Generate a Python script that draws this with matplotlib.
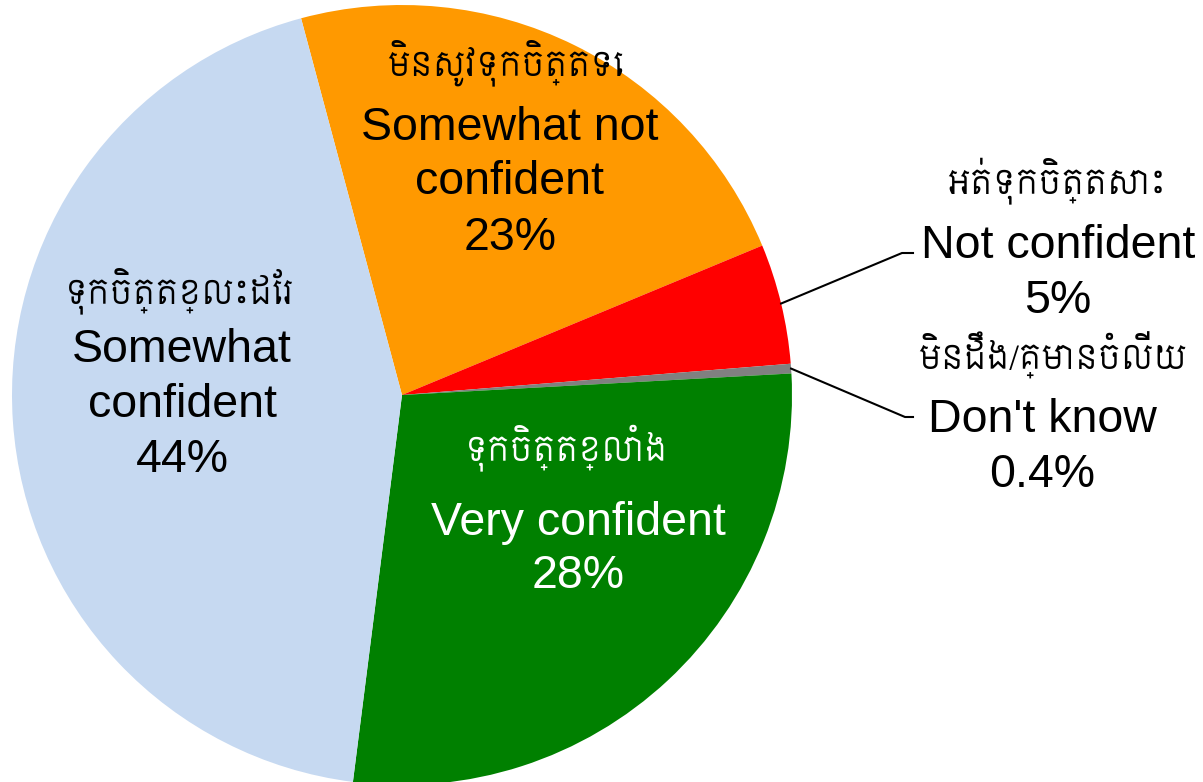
import matplotlib
matplotlib.use("Agg")
import numpy as np
import matplotlib.pyplot as plt

# survey answers, clockwise from the top-left edge of the orange slice
labels_km = ["មិនសូវទុកចិត្តទេ", "អត់ទុកចិត្តសោះ", "មិនដឹង/គ្មានចំលើយ",
             "ទុកចិត្តខ្លាំង", "ទុកចិត្តខ្លះដែរ"]
labels_en = [["Somewhat not", "confident"], ["Not confident"], ["Don't know"],
             ["Very confident"], ["Somewhat", "confident"]]
shares = [23, 5, 0.4, 28, 44]
colors = ["#FF9900", "#FF0000", "#808080", "#008000", "#C6D9F1"]
text_colors = ["black", "black", "black", "white", "black"]

EN = ["Liberation Sans", "DejaVu Sans"]
KM = ["Siemreap", "Liberation Sans", "DejaVu Sans"]

W, H = 1203, 782
CX, CY, R = 402, 395, 390   # pie centre and radius in pixels


def at(px, py):
    return (px - CX) / R, (CY - py) / R


fig = plt.figure(figsize=(W / 100, H / 100), dpi=100)
ax = fig.add_axes([0, 0, 1, 1])

wedges, _ = ax.pie(shares, colors=colors, startangle=105, counterclock=False,
                   wedgeprops=dict(linewidth=0))
ax.set_xlim(-CX / R, (W - CX) / R)
ax.set_ylim(-(H - CY) / R, CY / R)
ax.axis("off")

# label blocks: x centre, khmer (x, baseline), english baselines
blocks = [
    (510, (506, 75), [140, 194, 250]),
    (1058, (1057, 193), [258, 313]),
    (1042, (1053, 370), [432, 487]),
    (578, (567, 460), [535, 588]),
    (182, (180, 303), [362, 417, 472]),
]

for i, (xc, (kx, ky), ys) in enumerate(blocks):
    c = text_colors[i]
    ax.text(*at(kx, ky), labels_km[i], family=KM, fontsize=24, color=c,
            ha="center", va="baseline")
    lines = labels_en[i] + [f"{shares[i]:g}%"]
    for line, y in zip(lines, ys):
        ax.text(*at(xc, y), line, family=EN, fontsize=33.5, color=c,
                ha="center", va="baseline")

# leader lines for the two thin slices
elbows = {1: [(902, 253), (913, 253)], 2: [(905, 417), (913, 417)]}
for i, pts in elbows.items():
    w = wedges[i]
    t = np.deg2rad((w.theta1 + w.theta2) / 2)
    xs = [np.cos(t)] + [at(*p)[0] for p in pts]
    ys = [np.sin(t)] + [at(*p)[1] for p in pts]
    ax.plot(xs, ys, color="black", lw=1.5)

fig.savefig("out.png", dpi=100)
